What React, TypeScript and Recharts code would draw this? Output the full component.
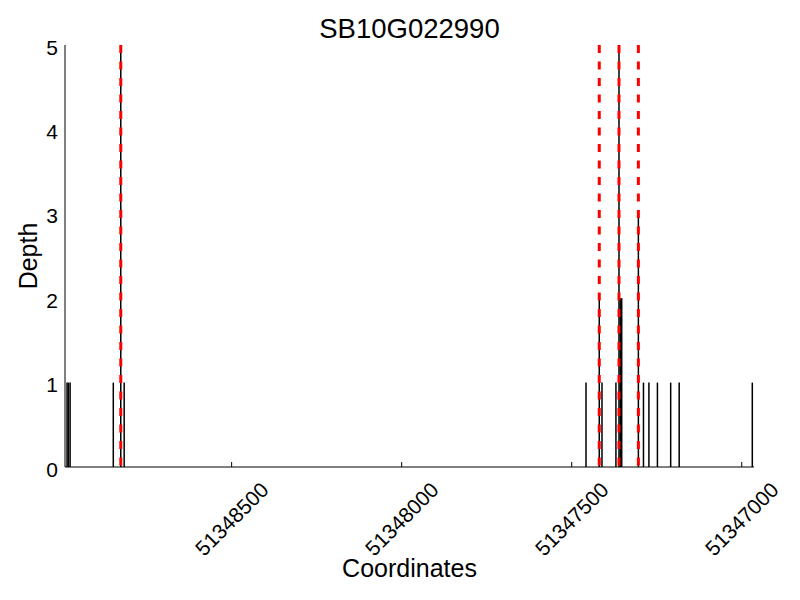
import {
  ComposedChart,
  XAxis,
  YAxis,
  Scatter,
  ReferenceLine,
} from 'recharts'

// genomic positions with read depth (reads drawn as vertical sticks)
const positions = [
  51348984, 51348980, 51348975, 51348848, 51348826, 51348816,
  51347458, 51347419, 51347411, 51347370, 51347361, 51347357, 51347353,
  51347304, 51347289, 51347273, 51347248, 51347209, 51347184, 51346969,
]
const depths = [
  1, 1, 1, 1, 5, 1,
  1, 2, 1, 1, 5, 2, 2,
  3, 1, 1, 1, 1, 1, 1,
]

// red dashed marker positions
const markers = [51348826, 51347419, 51347361, 51347304]

const xTicks = [51348500, 51348000, 51347500, 51347000]
const yTicks = [0, 1, 2, 3, 4, 5]
const xDomain = [51346964, 51348990]
const yMax = 5

const FONT = '"Liberation Sans", Arial, Helvetica, sans-serif'

const points = positions.map((pos, i) => ({ pos, depth: depths[i] }))

const XTick = (props: any) => {
  const { x, y, payload } = props
  const ty = y + 52
  return (
    <g>
      <line x1={x} x2={x} y1={y} y2={y - 5} stroke="#000" strokeWidth={1} />
      <text
        x={x}
        y={ty}
        transform={`rotate(-45 ${x} ${ty})`}
        textAnchor="middle"
        dominantBaseline="central"
        fontSize={21}
        fontFamily={FONT}
        fill="#000"
      >
        {payload.value}
      </text>
    </g>
  )
}

const YTick = (props: any) => {
  const { x, y, payload } = props
  return (
    <text
      x={x - 7}
      y={y + 2}
      textAnchor="end"
      dominantBaseline="central"
      fontSize={21}
      fontFamily={FONT}
      fill="#000"
    >
      {payload.value}
    </text>
  )
}

export default function App() {
  return (
    <div style={{ position: 'relative', width: 800, height: 600, background: '#fff', fontFamily: FONT }}>
      <style>{'body{margin:0}'}</style>
      <ComposedChart width={800} height={600} data={points} margin={{ top: 45, right: 46, left: 0, bottom: 0 }}>
        <XAxis
          type="number"
          dataKey="pos"
          domain={xDomain}
          reversed
          allowDataOverflow
          ticks={xTicks}
          interval={0}
          height={133}
          tickSize={0}
          tickMargin={0}
          tickLine={false}
          axisLine={{ stroke: '#000', strokeWidth: 1 }}
          tick={<XTick />}
        />
        <YAxis
          type="number"
          domain={[0, yMax]}
          ticks={yTicks}
          allowDataOverflow
          width={65}
          tickSize={0}
          tickMargin={0}
          tickLine={false}
          axisLine={{ stroke: '#000', strokeWidth: 1 }}
          tick={<YTick />}
        />
        <Scatter dataKey="depth" isAnimationActive={false} shape={() => <g />} />
        {points.map((p, i) => (
          <ReferenceLine
            key={`d-${i}`}
            segment={[{ x: p.pos, y: 0 }, { x: p.pos, y: p.depth }]}
            stroke="#000"
            strokeWidth={1.5}
          />
        ))}
        {markers.map((m, i) => (
          <ReferenceLine
            key={`m-${i}`}
            segment={[{ x: m, y: yMax }, { x: m, y: 0 }]}
            stroke="#ff0000"
            strokeWidth={3}
            strokeDasharray="8 8.5"
          />
        ))}
      </ComposedChart>
      <div style={{ position: 'absolute', left: 65, width: 689, top: 14, textAlign: 'center', fontSize: 27.5, lineHeight: '30px' }}>
        SB10G022990
      </div>
      <div style={{ position: 'absolute', left: 65, width: 689, top: 553, textAlign: 'center', fontSize: 25, lineHeight: '30px' }}>
        Coordinates
      </div>
      <div
        style={{
          position: 'absolute',
          left: 28,
          top: 256,
          transform: 'translate(-50%, -50%) rotate(-90deg)',
          fontSize: 25,
          lineHeight: '30px',
          whiteSpace: 'nowrap',
        }}
      >
        Depth
      </div>
    </div>
  )
}
